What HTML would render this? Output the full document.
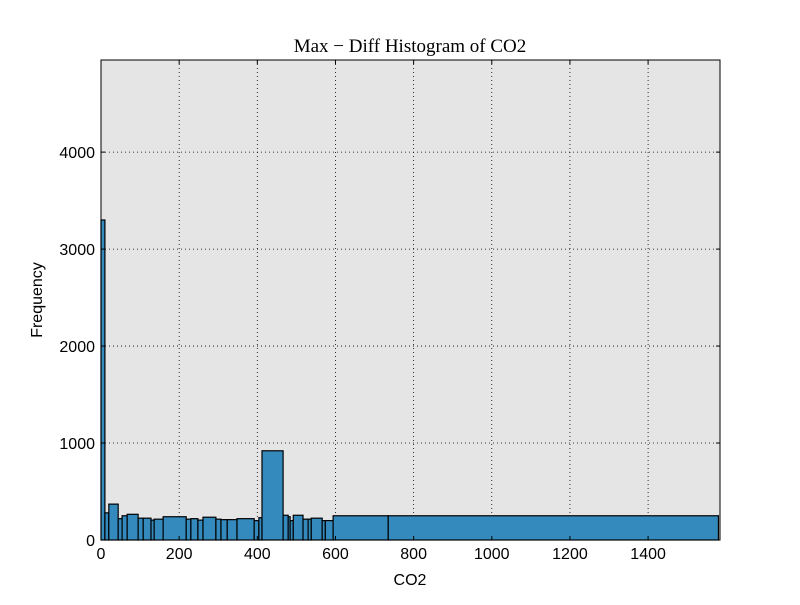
<!DOCTYPE html>
<html><head><meta charset="utf-8"><style>
body{margin:0;background:#fff;width:800px;height:600px;overflow:hidden}
text{font-family:"Liberation Sans",sans-serif}
</style></head><body>
<svg id="chart" width="800" height="600" viewBox="0 0 800 600" xmlns="http://www.w3.org/2000/svg">
<rect width="800" height="600" fill="#fff"/>
<rect id="plotbg" x="101" y="60" width="619" height="480" fill="#e5e5e5"/>
<g id="grid"></g>
<g id="bars"></g>
<rect x="101" y="60" width="619" height="480" fill="none" stroke="#000" stroke-width="1"/>
<g id="ticks"></g>
<text x="410" y="52" text-anchor="middle" font-size="19" style="font-family:'Liberation Serif',serif">Max − Diff Histogram of CO2</text>
<text x="410" y="585" text-anchor="middle" font-size="16">CO2</text>
<text transform="translate(42,300) rotate(-90)" text-anchor="middle" font-size="16">Frequency</text>
</svg>
<script>
const binEdges=[0,10,20,44,54,67,95,108,128,136,159,218,230,248,261,294,307,323,348,392,404,412,466,479,484,492,517,530,538,566,574,594,735,1580];
const counts=[3300,280,370,220,250,265,225,225,205,215,240,215,220,205,235,215,210,210,220,200,230,920,255,240,200,255,215,215,225,200,200,250,250];
const xTicks=[0,200,400,600,800,1000,1200,1400];
const yTicks=[0,1000,2000,3000,4000];
const X0=101,X1=720,Y0=540,Y1=60,XMAX=1584,YMAX=4950;
const ns="http://www.w3.org/2000/svg";
function xs(v){return X0+(v/XMAX)*(X1-X0);}
function ys(v){return Y0-(v/YMAX)*(Y0-Y1);}
function mk(t,a,p){const e=document.createElementNS(ns,t);for(const k in a)e.setAttribute(k,a[k]);p.appendChild(e);return e;}
const grid=document.getElementById('grid'),bars=document.getElementById('bars'),ticks=document.getElementById('ticks');
xTicks.forEach(v=>{
  const x=xs(v);
  const g=mk('line',{x1:x,x2:x,y1:Y1,y2:Y0,stroke:'#000','stroke-dasharray':'1,3','stroke-width':0.8},grid);
  
  
  mk('line',{x1:x,x2:x,y1:Y0,y2:Y0-4,stroke:'#000'},ticks);
  mk('line',{x1:x,x2:x,y1:Y1,y2:Y1+4,stroke:'#000'},ticks);
  const t=mk('text',{x:x,y:Y0+19,'text-anchor':'middle','font-size':16},ticks);
  t.textContent=v;
  
  
});
yTicks.forEach(v=>{
  const y=ys(v);
  const g=mk('line',{x1:X0,x2:X1,y1:y,y2:y,stroke:'#000','stroke-dasharray':'1,3','stroke-width':0.8},grid);
  
  
  mk('line',{x1:X0,x2:X0+4,y1:y,y2:y,stroke:'#000'},ticks);
  mk('line',{x1:X1,x2:X1-4,y1:y,y2:y,stroke:'#000'},ticks);
  const t=mk('text',{x:X0-6,y:y+6,'text-anchor':'end','font-size':16},ticks);
  t.textContent=v;
  
  
});
counts.forEach((c,i)=>{
  const x=xs(binEdges[i]),w=xs(binEdges[i+1])-x,y=ys(c);
  const r=mk('rect',{x:x,y:y,width:w,height:Y0-y,fill:'#348abd',stroke:'#000','stroke-width':1.2},bars);
  
  
});
</script>
</body></html>
